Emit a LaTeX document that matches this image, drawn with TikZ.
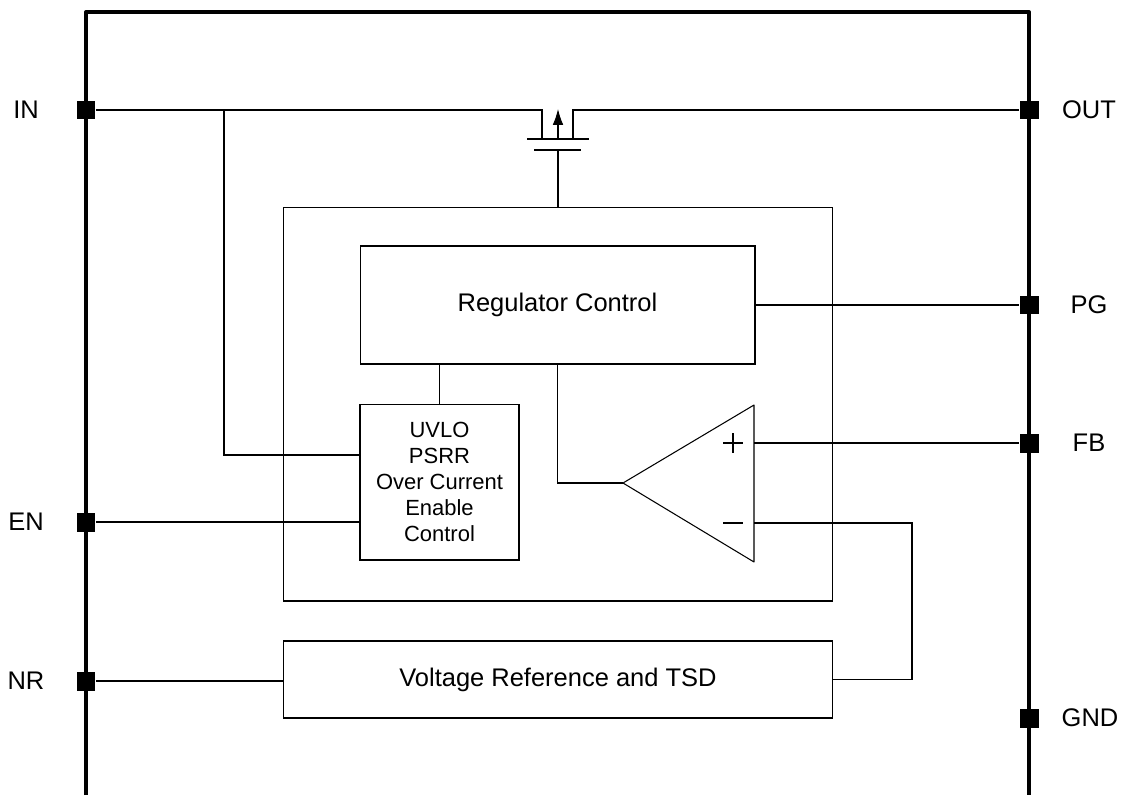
\documentclass[tikz,border=0pt]{standalone}
\usepackage{fontspec}
\setmainfont{Liberation Sans}
\usetikzlibrary{arrows.meta}
\tikzset{pinsq/.style={rectangle,fill,inner sep=0pt,minimum size=10.8pt},
  pintext/.style={font=\fontsize{14.5}{17}\selectfont},
  blockbox/.style={rectangle,draw,line width=0.6pt,inner sep=0pt},
  wire/.style={line width=0.6pt}}

\begin{document}
\begin{tikzpicture}[x=0.02cm, y=-0.02cm]

\useasboundingbox (0,0) rectangle (1124,795);

% frame
\draw [line width=2.3pt, line join=round] (86,795) -- (86,12) -- (1029,12) -- (1029,795);

% pins
\node [pinsq] (in) at (86,110) {};
\node [pinsq] (en) at (86,522) {};
\node [pinsq] (nr) at (86,681) {};
\node [pinsq] (out) at (1029,110) {};
\node [pinsq] (pg) at (1029,305) {};
\node [pinsq] (fb) at (1029,443) {};
\node [pinsq] (gnd) at (1029,718) {};

\node [pintext] (inlbl) at (26,110) {IN};
\node [pintext] (enlbl) at (26,522) {EN};
\node [pintext] (nrlbl) at (26,681) {NR};
\node [pintext] (outlbl) at (1089,110) {OUT};
\node [pintext] (pglbl) at (1089,305) {PG};
\node [pintext] (fblbl) at (1089,443) {FB};
\node [pintext] (gndlbl) at (1090,718) {GND};

% blocks
\node [blockbox, minimum width=11cm, minimum height=7.88cm] (core) at (558,404) {};
\node [blockbox, minimum width=7.9cm, minimum height=2.36cm, pintext] (reg) at (557.5,305) {Regulator Control};
\node [blockbox, minimum width=3.18cm, minimum height=3.12cm, align=center,
  font=\fontsize{12.5}{14.7}\selectfont] (uvlo) at (439.5,482)
  {UVLO\\PSRR\\Over Current\\Enable\\Control};
\node [blockbox, minimum width=11cm, minimum height=1.54cm, pintext] (vref) at (558,679.5) {Voltage Reference and TSD};

% amplifier
\coordinate (amptop) at (754,405);
\coordinate (ampbot) at (754,562);
\coordinate (ampout) at (623,483);
\coordinate (ampp) at (754,443);
\coordinate (ampn) at (754,523);
\draw [wire, line join=round] (amptop) -- (ampbot) -- (ampout) -- cycle;
\draw [wire] (723,443) -- (743,443) (733,433) -- (733,453);
\draw [wire] (723,523) -- (743,523);

% pass device
\coordinate (dleft) at (542,139);
\coordinate (dright) at (573,139);
\coordinate (gate) at (558,150);
\coordinate (inbr) at (224,110);
\draw [wire] (527,139) -- (589,139);
\draw [wire] (534,150) -- (581,150);
\draw [wire, -{Latex[length=9pt,width=6pt]}] (558,139) -- (558,109);

% edges
\draw [wire] (in) -| (dleft);
\draw [wire] (out) -| (dright);
\draw [wire] (dright |- out) -- (589,110);
\draw [wire] (gate) -- (core.north);
\draw [wire] (inbr) |- (uvlo.west |- 0,455);
\draw [wire] (en) -- (en -| uvlo.west);
\draw [wire] (nr) -- (nr -| vref.west);
\draw [wire] (uvlo.north) -- (uvlo.north |- reg.south);
\draw [wire] (reg.south) |- (ampout);
\draw [wire] (reg.east) -- (pg);
\draw [wire] (ampp) -- (fb);
\draw [wire] (ampn) -- (912,523) |- (vref.east);

\end{tikzpicture}
\end{document}
